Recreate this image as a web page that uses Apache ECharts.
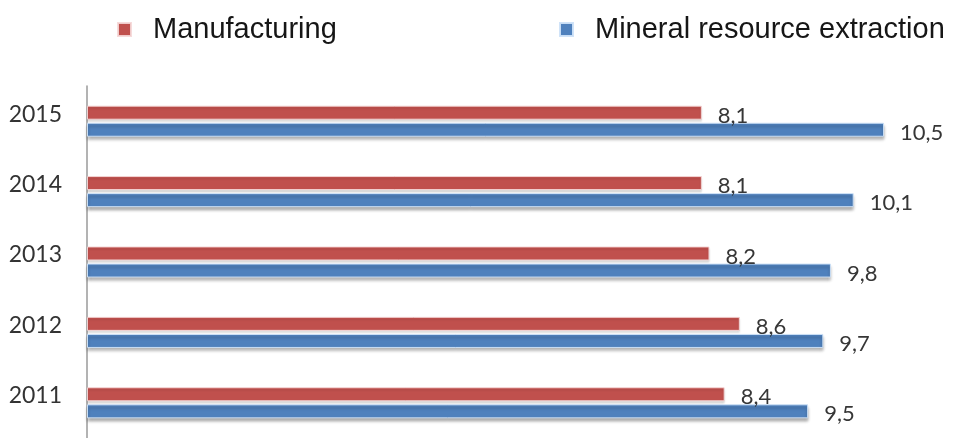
<!DOCTYPE html>
<html>
<head>
<meta charset="utf-8">
<script src="https://cdn.jsdelivr.net/npm/echarts@6/dist/echarts.min.js"></script>
<style>
  html, body { margin: 0; padding: 0; background: #ffffff; }
  #chart { width: 955px; height: 438px; }
</style>
</head>
<body>
<div id="chart"></div>
<script>
// Years shown on the category axis (top to bottom after inversion)
const years = ['2015', '2014', '2013', '2012', '2011'];
// Growth values by sector
const manufacturing = [8.1, 8.1, 8.2, 8.6, 8.4];
const mineralExtraction = [10.5, 10.1, 9.8, 9.7, 9.5];
const seriesNames = ['Manufacturing', 'Mineral resource extraction'];

const RED = '#c0504d';
const BLUE = '#4f81bd';

const fmt = p => String(p.value).replace('.', ',');

const labelStyle = {
  show: true,
  position: 'right',
  distance: 16,
  offset: [0, 3],
  formatter: fmt,
  fontFamily: 'Lato, "Open Sans", sans-serif',
  fontSize: 22,
  color: '#363636'
};

const legendText = {
  fontFamily: '"Liberation Sans", Arial, sans-serif',
  fontSize: 29,
  color: '#161616',
  padding: [0, 0, 0, 17]
};

const chart = echarts.init(document.getElementById('chart'));
chart.setOption({
  animation: false,
  backgroundColor: '#ffffff',
  legend: [
    {
      data: [seriesNames[0]],
      left: 112, top: 10,
      icon: 'rect', itemWidth: 13, itemHeight: 13,
      textStyle: legendText
    },
    {
      data: [seriesNames[1]],
      left: 554, top: 10,
      icon: 'rect', itemWidth: 13, itemHeight: 13,
      textStyle: legendText
    }
  ],
  grid: { left: 87, top: 86, width: 835, height: 366, containLabel: false },
  xAxis: {
    type: 'value',
    min: 0,
    max: 11,
    show: false,
    splitLine: { show: false }
  },
  yAxis: {
    type: 'category',
    data: years,
    inverse: true,
    axisLine: { show: true, lineStyle: { color: '#9a9a9a', width: 1.5 } },
    axisTick: { show: false },
    axisLabel: {
      margin: 25,
      verticalAlign: 'bottom',
      lineHeight: 14,
      fontFamily: 'Lato, "Open Sans", sans-serif',
      fontSize: 23,
      color: '#333333'
    }
  },
  series: [
    {
      name: seriesNames[0],
      type: 'bar',
      data: manufacturing,
      barWidth: 14,
      barGap: '22%',
      itemStyle: {
        color: RED,
        borderColor: 'rgba(245,215,215,0.9)',
        borderWidth: 1,
        shadowColor: 'rgba(0,0,0,0.15)',
        shadowBlur: 2,
        shadowOffsetY: 2
      },
      label: labelStyle
    },
    {
      name: seriesNames[1],
      type: 'bar',
      data: mineralExtraction,
      barWidth: 14,
      itemStyle: {
        color: BLUE,
        borderColor: 'rgba(205,225,248,0.95)',
        borderWidth: 1,
        shadowColor: 'rgba(0,0,0,0.35)',
        shadowBlur: 3,
        shadowOffsetY: 3
      },
      label: labelStyle
    }
  ]
});
</script>
</body>
</html>
